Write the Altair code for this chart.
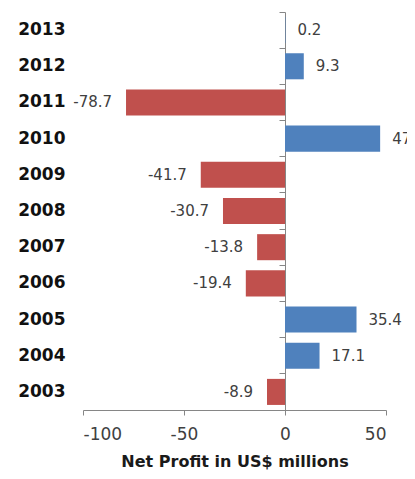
import altair as alt
import pandas as pd

years = ["2013", "2012", "2011", "2010", "2009", "2008", "2007", "2006", "2005", "2004", "2003"]
profits = [0.2, 9.3, -78.7, 47.1, -41.7, -30.7, -13.8, -19.4, 35.4, 17.1, -8.9]
x_ticks = [-100, -50, 0, 50]
x_title = "Net Profit in US$ millions"

df = pd.DataFrame({"year": years, "profit": profits})
df["label"] = [f"{v:.1f}" for v in profits]

W, H = 303, 398
XMIN, XMAX = -100, 50
zero_px = W * (0 - XMIN) / (XMAX - XMIN)
FONT = "DejaVu Sans"

base = alt.Chart(df).transform_calculate(
    sign="datum.profit >= 0 ? 'pos' : 'neg'"
)

y_enc = alt.Y(
    "year:N",
    sort=years,
    scale=alt.Scale(paddingInner=0, paddingOuter=0),
    axis=alt.Axis(
        title=None,
        orient="left",
        offset=-zero_px,
        domain=True,
        domainColor="#868686",
        ticks=True,
        tickColor="#868686",
        tickSize=6,
        bandPosition=0,
        labelPadding=214,
        labelAlign="right",
        labelFont=FONT,
        labelFontSize=17,
        labelFontWeight="bold",
        labelColor="#111111",
        grid=False,
    ),
)

x_enc = alt.X(
    "profit:Q",
    scale=alt.Scale(domain=[XMIN, XMAX], nice=False, zero=False),
    axis=alt.Axis(
        values=x_ticks,
        labelExpr="'' + datum.value",
        title=x_title,
        domainColor="#868686",
        tickColor="#868686",
        tickSize=5,
        labelFont=FONT,
        labelFontSize=17,
        labelColor="#404040",
        labelPadding=11,
        titleFont=FONT,
        titleFontSize=16,
        titleFontWeight="bold",
        titleColor="#1a1a1a",
        titlePadding=11,
        grid=False,
    ),
)

bars = base.mark_bar(height=alt.RelativeBandSize(0.72)).encode(
    y=y_enc,
    x=x_enc,
    x2=alt.datum(0),
    color=alt.Color(
        "sign:N",
        scale=alt.Scale(domain=["pos", "neg"], range=["#4F81BD", "#C0504D"]),
        legend=None,
    ),
)

pos_text = base.transform_filter("datum.profit >= 0").mark_text(
    align="left", baseline="middle", dx=12, font=FONT, fontSize=15, color="#404040"
).encode(
    y=alt.Y("year:N", sort=years),
    x="profit:Q",
    text="label:N",
)

neg_text = base.transform_filter("datum.profit < 0").mark_text(
    align="right", baseline="middle", dx=-14, font=FONT, fontSize=15, color="#404040"
).encode(
    y=alt.Y("year:N", sort=years),
    x="profit:Q",
    text="label:N",
)

chart = alt.layer(bars, pos_text, neg_text).properties(
    width=W,
    height=H,
    autosize=alt.AutoSizeParams(type="none"),
    padding={"left": 75, "top": 4, "right": 21, "bottom": 61},
    background="white",
).configure_view(stroke=None)

chart.save("out.html", embed_options={"renderer": "svg", "actions": False})
